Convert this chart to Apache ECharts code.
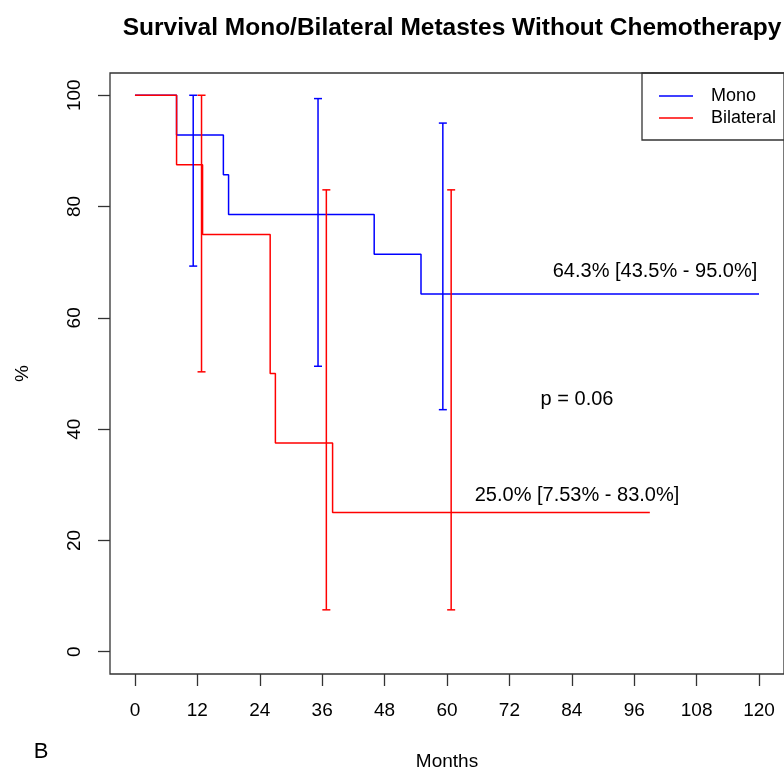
<!DOCTYPE html>
<html>
<head>
<meta charset="utf-8">
<script src="https://cdn.jsdelivr.net/npm/echarts@6/dist/echarts.min.js"></script>
<style>
html,body{margin:0;padding:0;background:#fff;}
#chart{width:784px;height:776px;}
</style>
</head>
<body>
<div id="chart"></div>
<script>
// ---- Data ----
var titleText = 'Survival Mono/Bilateral Metastes Without Chemotherapy';
var seriesNames = ['Mono', 'Bilateral'];
var xTicks = [0, 12, 24, 36, 48, 60, 72, 84, 96, 108, 120];
var yTicks = [0, 20, 40, 60, 80, 100];

var monoTimes = [0, 8, 17, 18, 46, 55, 120];
var monoSurv = [100, 92.86, 85.71, 78.57, 71.43, 64.29, 64.29];
var bilatTimes = [0, 8, 13, 26, 27, 38, 99];
var bilatSurv = [100, 87.5, 75, 50, 37.5, 25, 25];

var monoCiTimes = [11.2, 35.2, 59.2];
var monoCiLow = [69.3, 51.3, 43.5];
var monoCiHigh = [100, 99.4, 95.0];
var bilatCiTimes = [12.8, 36.8, 60.8];
var bilatCiLow = [50.3, 7.53, 7.53];
var bilatCiHigh = [100, 83.0, 83.0];

var annotTexts = ['64.3% [43.5% - 95.0%]', 'p = 0.06', '25.0% [7.53% - 83.0%]'];
var annotX = [100, 85, 85];
var annotY = [68.3, 45.4, 28];

// ---- Build ----
var FONT = 'Liberation Sans, Arial, sans-serif';
function pairs(xs, ys) { return xs.map(function (x, i) { return [x, ys[i]]; }); }
function ciData(xs, lo, hi) { return xs.map(function (x, i) { return [x, lo[i], hi[i]]; }); }

function ciRender(color) {
  return function (params, api) {
    var x = api.value(0);
    var lo = api.coord([x, api.value(1)]);
    var hi = api.coord([x, api.value(2)]);
    var cap = 4;
    var st = { stroke: color, lineWidth: 1.5 };
    return {
      type: 'group',
      children: [
        { type: 'line', shape: { x1: lo[0], y1: lo[1], x2: hi[0], y2: hi[1] }, style: st },
        { type: 'line', shape: { x1: lo[0] - cap, y1: lo[1], x2: lo[0] + cap, y2: lo[1] }, style: st },
        { type: 'line', shape: { x1: hi[0] - cap, y1: hi[1], x2: hi[0] + cap, y2: hi[1] }, style: st }
      ]
    };
  };
}

function annotRender(params, api) {
  var p = api.coord([api.value(0), api.value(1)]);
  return {
    type: 'text',
    x: p[0], y: p[1],
    style: {
      text: annotTexts[params.dataIndex],
      font: '20px ' + FONT,
      fill: '#000',
      align: 'center',
      verticalAlign: 'middle'
    }
  };
}

var chart = echarts.init(document.getElementById('chart'), null, { renderer: 'canvas' });
var option = {
  animation: false,
  backgroundColor: '#fff',
  title: {
    text: titleText,
    left: 447,
    textAlign: 'center',
    top: 11,
    textStyle: { fontFamily: FONT, fontWeight: 'bold', fontSize: 24.5, color: '#000' }
  },
  legend: {
    data: seriesNames,
    orient: 'vertical',
    left: 659,
    top: 86,
    padding: 0,
    icon: 'rect',
    itemWidth: 34,
    itemHeight: 1.5,
    itemGap: 2,
    textStyle: { fontFamily: FONT, fontSize: 18, color: '#000', lineHeight: 20, padding: [0, 0, 0, 13] },
    selectedMode: false
  },
  grid: {
    left: 110, top: 73, width: 675, height: 603,
    show: true, borderColor: '#333', borderWidth: 1.3, backgroundColor: 'transparent'
  },
  xAxis: {
    type: 'value', min: -4.8, max: 124.8,
    name: 'Months', nameLocation: 'middle', nameGap: 78,
    nameTextStyle: { fontFamily: FONT, fontSize: 19, color: '#000' },
    axisLine: { show: false, onZero: false },
    splitLine: { show: false },
    axisTick: { show: true, length: 12, customValues: xTicks, lineStyle: { color: '#333', width: 1.3 } },
    axisLabel: { customValues: xTicks, fontFamily: FONT, fontSize: 19, color: '#000', margin: 27 }
  },
  yAxis: {
    type: 'value', min: -4, max: 104,
    name: '%', nameLocation: 'middle', nameGap: 78, nameRotate: 90,
    nameTextStyle: { fontFamily: FONT, fontSize: 19, color: '#000' },
    axisLine: { show: false, onZero: false },
    splitLine: { show: false },
    axisTick: { show: true, length: 12, customValues: yTicks, lineStyle: { color: '#333', width: 1.3 } },
    axisLabel: { customValues: yTicks, rotate: 90, fontFamily: FONT, fontSize: 19, color: '#000', margin: 26 }
  },
  series: [
    {
      name: seriesNames[0], type: 'line', step: 'end', showSymbol: false,
      data: pairs(monoTimes, monoSurv),
      itemStyle: { color: '#0000FF' },
      lineStyle: { color: '#0000FF', width: 1.5 },
      z: 2
    },
    {
      name: seriesNames[1], type: 'line', step: 'end', showSymbol: false,
      data: pairs(bilatTimes, bilatSurv),
      itemStyle: { color: '#FF0000' },
      lineStyle: { color: '#FF0000', width: 1.5 },
      z: 3
    },
    {
      name: 'MonoCI', type: 'custom', renderItem: ciRender('#0000FF'),
      data: ciData(monoCiTimes, monoCiLow, monoCiHigh), z: 4
    },
    {
      name: 'BilatCI', type: 'custom', renderItem: ciRender('#FF0000'),
      data: ciData(bilatCiTimes, bilatCiLow, bilatCiHigh), z: 4
    },
    {
      name: 'annot', type: 'custom', renderItem: annotRender, silent: true,
      data: pairs(annotX, annotY), z: 5
    }
  ],
  graphic: [
    { type: 'rect', shape: { x: 642, y: 73, width: 200, height: 67 }, style: { fill: 'transparent', stroke: '#333', lineWidth: 1.3 }, z: 10 },
    { type: 'text', x: 41, y: 752, style: { text: 'B', font: '22px ' + FONT, fill: '#000', align: 'center', verticalAlign: 'middle' } }
  ]
};
chart.setOption(option);
</script>
</body>
</html>
